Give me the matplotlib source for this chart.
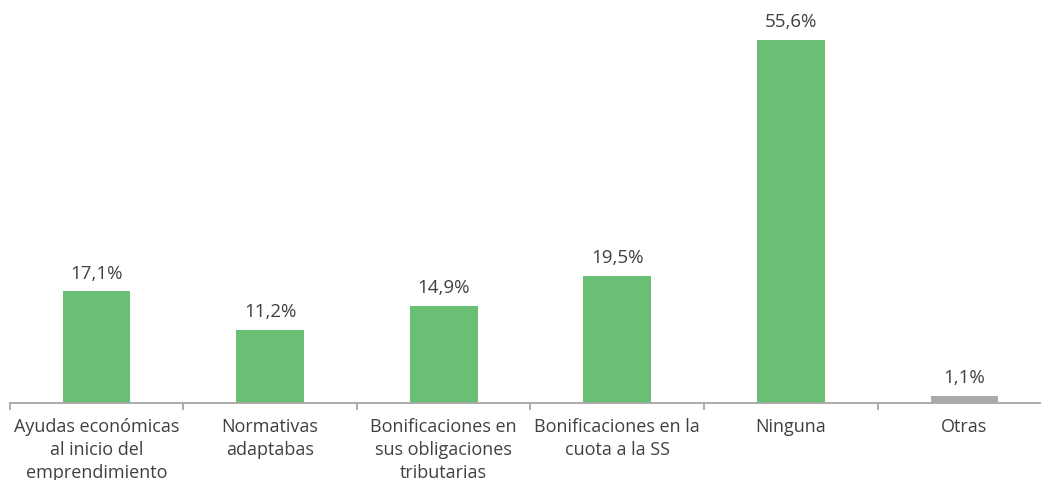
import matplotlib
import numpy as np
from matplotlib import pyplot as plt

matplotlib.rc("font", family="Open Sans", size=13)

categories = [
    "Ayudas económicas\nal inicio del\nemprendimiento",
    "Normativas\nadaptabas",
    "Bonificaciones en\nsus obligaciones\ntributarias",
    "Bonificaciones en la\ncuota a la SS",
    "Ninguna",
    "Otras",
]
values = [17.1, 11.2, 14.9, 19.5, 55.6, 1.1]
colors = ["#69bf73"] * 5 + ["#a9a9a9"]
text_color = "#404040"

fig = plt.figure(figsize=(10.41, 4.81), dpi=100)
ax = fig.add_axes([9.7 / 1041, 77 / 481, 1041.6 / 1041, 404 / 481])

x = np.arange(len(categories))
bars = ax.bar(x, values, width=0.39, color=colors)

for xi, v in zip(x, values):
    ax.annotate(f"{v:.1f}".replace(".", ",") + "%", (xi, v),
                xytext=(0, 7), textcoords="offset points",
                ha="center", va="bottom", color=text_color, fontsize=13.5)

ax.set_xlim(-0.5, len(categories) - 0.5)
ax.set_ylim(0, 61.9)

for s in ["top", "right", "left"]:
    ax.spines[s].set_visible(False)
ax.spines["bottom"].set_color("#a6a6a6")
ax.spines["bottom"].set_linewidth(1.3)
ax.set_yticks([])

ax.set_xticks(x)
ax.set_xticklabels(categories, color=text_color, linespacing=1.36)
ax.tick_params(axis="x", which="major", length=0, pad=10)
ax.set_xticks(np.arange(-0.5, len(categories)), minor=True)
ax.tick_params(axis="x", which="minor", length=5, color="#a6a6a6", width=1.3)

fig.savefig("out.png", dpi=100)
